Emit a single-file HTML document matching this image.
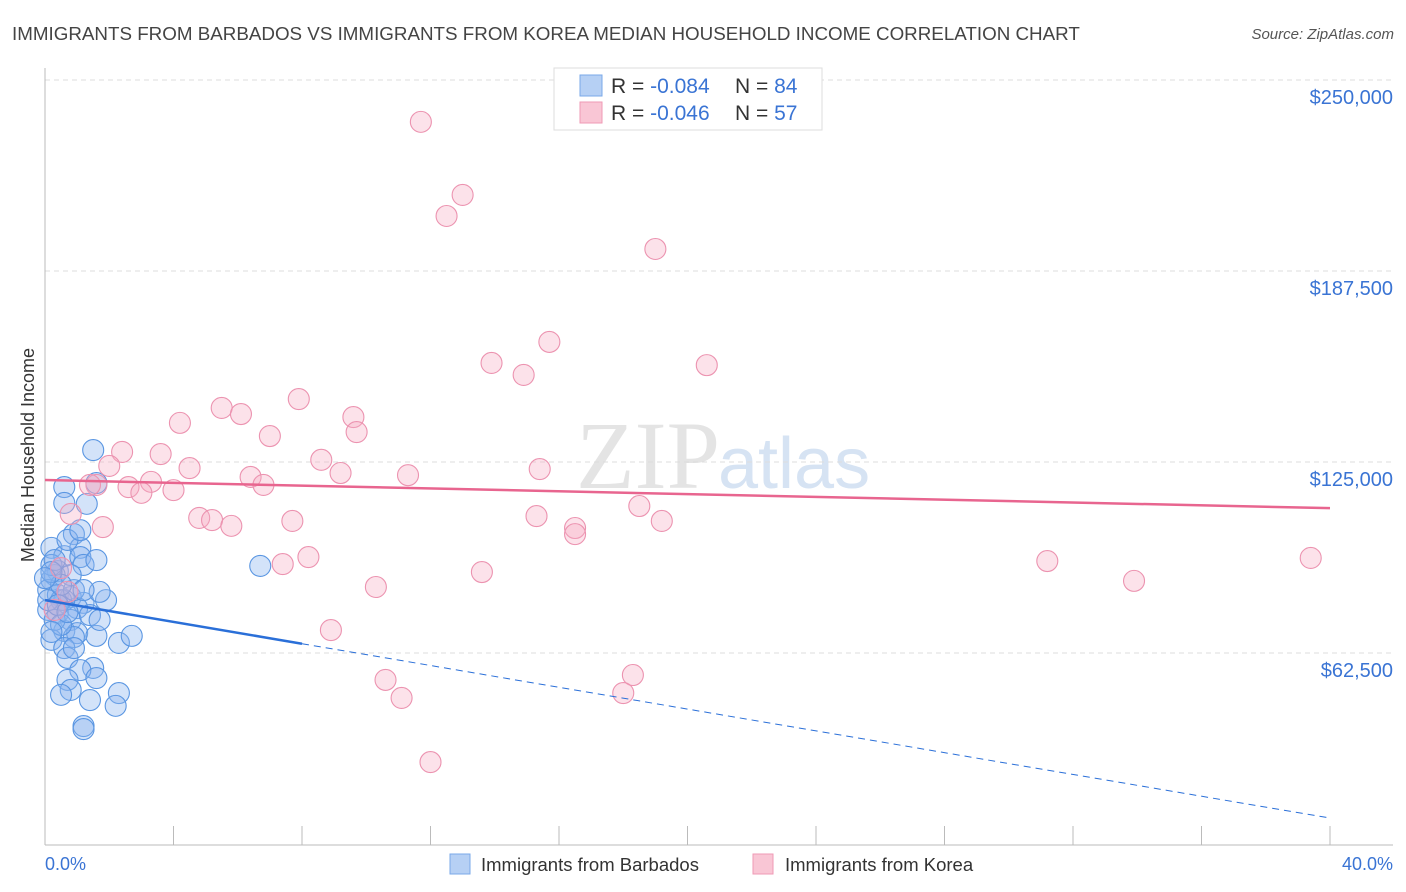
<!DOCTYPE html>
<html><head><meta charset="utf-8"><style>
body{margin:0;background:#fff;font-family:"Liberation Sans",sans-serif;}
svg{display:block}
</style></head><body>
<svg id="chart" width="1406" height="892" viewBox="0 0 1406 892" xmlns="http://www.w3.org/2000/svg">
<text x="12" y="40" font-size="18.8" fill="#444">IMMIGRANTS FROM BARBADOS VS IMMIGRANTS FROM KOREA MEDIAN HOUSEHOLD INCOME CORRELATION CHART</text>
<text x="1394" y="39" font-size="15" font-style="italic" fill="#555" text-anchor="end">Source: ZipAtlas.com</text>
<text x="720" y="488" font-size="96" font-family="Liberation Serif,serif" fill="#e4e4e4" text-anchor="end">ZIP</text>
<text x="718" y="488" font-size="72" fill="#d6e3f3">atlas</text>
<g id="grid"></g>
<g id="axes"></g>
<g id="pts"></g>
<g id="lines"></g>
<text transform="translate(34,455) rotate(-90)" font-size="18" fill="#333" text-anchor="middle">Median Household Income</text>
<text x="45" y="870" font-size="18" fill="#3a74d4">0.0%</text>
<text x="1393" y="870" font-size="18" fill="#3a74d4" text-anchor="end">40.0%</text>
<g>
<rect x="554" y="68" width="268" height="62" fill="#fff" stroke="#ddd"/>
<rect x="580" y="75" width="22" height="21" fill="#b6d0f4" stroke="#7aa8e8"/>
<rect x="580" y="102" width="22" height="21" fill="#f9c6d5" stroke="#ef9ab5"/>
<text x="611" y="93" font-size="21" fill="#333">R = <tspan fill="#3a74d4">-0.084</tspan></text>
<text x="735" y="93" font-size="21" fill="#333">N = <tspan fill="#3a74d4">84</tspan></text>
<text x="611" y="120" font-size="21" fill="#333">R = <tspan fill="#3a74d4">-0.046</tspan></text>
<text x="735" y="120" font-size="21" fill="#333">N = <tspan fill="#3a74d4">57</tspan></text>
</g>
<g>
<rect x="450" y="854" width="20" height="20" fill="#b6d0f4" stroke="#7aa8e8"/>
<text x="481" y="871" font-size="18.5" fill="#333">Immigrants from Barbados</text>
<rect x="753" y="854" width="20" height="20" fill="#f9c6d5" stroke="#ef9ab5"/>
<text x="785" y="871" font-size="18.5" fill="#333">Immigrants from Korea</text>
</g>
</svg>
<script>
const yTicks=[62500,125000,187500,250000];
const yTickLabels=["$62,500","$125,000","$187,500","$250,000"];
const xTicks=[0,4,8,12,16,20,24,28,32,36,40];
const blueX=[1.5,0.6,1.6,0.6,1.3,0.9,0.2,0.6,0.4,1.1,1.1,1.2,1.6,0.2,0.3,0.1,0.4,0.8,1.2,1.0,1.9,1.7,0.6,0.4,0.8,0.6,1.0,0.2,0.9,0.6,1.6,2.3,2.7,0.7,1.5,1.1,0.7,1.6,0.8,2.3,0.5,1.4,2.2,1.2,1.2,6.7,0.5,0.1,0.3,0.2,0.7,1.1,0.9,1.4,0.3,0.5,0.8,0.1,0.5,1.2,1.7,0.2,0.9,0.4,0.7,0.2,0.0];
const blueY=[128.9,116.8,118.1,111.6,111.3,101.4,96.9,94.2,89.3,96.9,93.9,91.3,92.9,86.4,88.0,83.1,81.5,80.8,78.9,77.2,79.8,82.5,79.8,75.6,73.3,69.7,69.0,66.8,67.7,64.1,68.1,65.8,68.1,60.9,57.6,56.9,53.7,54.3,50.4,49.4,48.8,47.1,45.2,38.6,37.6,91.0,79.8,76.6,73.3,91.3,99.5,102.7,83.1,74.9,92.9,71.7,88.0,79.8,84.8,83.1,73.3,69.4,64.1,78.2,75.9,89.0,87.0];
const pinkX=[11.7,13.0,12.5,19.0,15.7,13.9,14.9,20.6,7.9,5.5,6.1,9.6,4.2,9.7,7.0,2.4,3.6,8.6,2.0,4.5,15.4,3.3,2.6,6.4,9.2,11.3,6.8,4.0,3.0,1.6,4.8,5.2,5.8,7.7,15.3,16.5,16.5,18.5,19.2,1.8,7.4,8.2,13.6,10.3,31.2,33.9,39.4,8.9,10.6,18.3,11.1,18.0,12.0,0.8,0.5,0.7,0.3,1.4];
const pinkY=[236.3,212.4,205.5,194.7,164.3,157.4,153.5,156.7,145.6,142.7,140.7,139.7,137.8,134.8,133.5,128.3,127.6,125.7,123.7,123.0,122.7,118.5,116.8,120.1,121.4,120.7,117.5,115.8,114.9,117.5,106.7,106.0,104.1,105.7,107.3,103.4,101.4,110.6,105.7,103.7,91.6,93.9,89.0,84.1,92.6,86.1,93.6,70.0,53.7,55.3,47.8,49.4,26.8,108.0,90.3,82.5,76.6,117.5];
const blueTrend=[79.8,8.5]; // $k at 0% and 40%
const pinkTrend=[119.1,109.9];
const NS="http://www.w3.org/2000/svg";
const X0=45,X1=1330,YB=844,Y62=653;
function sx(v){return X0+(v/40)*(X1-X0);}
function sy(k){return YB-(k*1000/62500)*(YB-Y62);}
function mk(tag,attrs,parent){const e=document.createElementNS(NS,tag);for(const k in attrs)e.setAttribute(k,attrs[k]);parent.appendChild(e);return e;}
const grid=document.getElementById('grid'),axes=document.getElementById('axes'),pts=document.getElementById('pts'),lines=document.getElementById('lines');
yTicks.forEach((t,i)=>{
 const y=sy(t/1000);
 const g=mk('line',{x1:45,x2:1393,y1:y,y2:y,stroke:'#ddd','stroke-dasharray':'5,4'},grid);
 
 
 const tx=mk('text',{x:1393,y:y+24,'font-size':20,fill:'#3a74d4','text-anchor':'end'},grid);
 tx.textContent=yTickLabels[i];
 
 
});
const ya=mk('line',{x1:45,x2:45,y1:68,y2:845,stroke:'#bbb'},axes);


const xa=mk('line',{x1:45,x2:1393,y1:845,y2:845,stroke:'#bbb'},axes);


xTicks.forEach(t=>{
 const x=sx(t);
 const tk=mk('line',{x1:x,x2:x,y1:826,y2:845,stroke:'#bbb'},axes);
 
 
});
blueX.forEach((v,i)=>{
 const c=mk('circle',{cx:sx(v),cy:sy(blueY[i]),r:10.5,fill:'rgba(140,182,238,0.38)',stroke:'#5a96e2','stroke-width':1.1},pts);
 
 
});
pinkX.forEach((v,i)=>{
 const c=mk('circle',{cx:sx(v),cy:sy(pinkY[i]),r:10.5,fill:'rgba(246,172,196,0.35)',stroke:'#ec93b0','stroke-width':1.1},pts);
 
 
});
function trendAt(tr,x){return tr[0]+(tr[1]-tr[0])*x/40;}
const b1=mk('line',{x1:sx(0),y1:sy(trendAt(blueTrend,0)),x2:sx(8),y2:sy(trendAt(blueTrend,8)),stroke:'#2a6fd8','stroke-width':2.5},lines);


const b2=mk('line',{x1:sx(8),y1:sy(trendAt(blueTrend,8)),x2:sx(40),y2:sy(trendAt(blueTrend,40)),stroke:'#2a6fd8','stroke-width':1,'stroke-dasharray':'7,5'},lines);


const p1=mk('line',{x1:sx(0),y1:sy(trendAt(pinkTrend,0)),x2:sx(40),y2:sy(trendAt(pinkTrend,40)),stroke:'#e8658f','stroke-width':2.5},lines);


</script>
</body></html>
